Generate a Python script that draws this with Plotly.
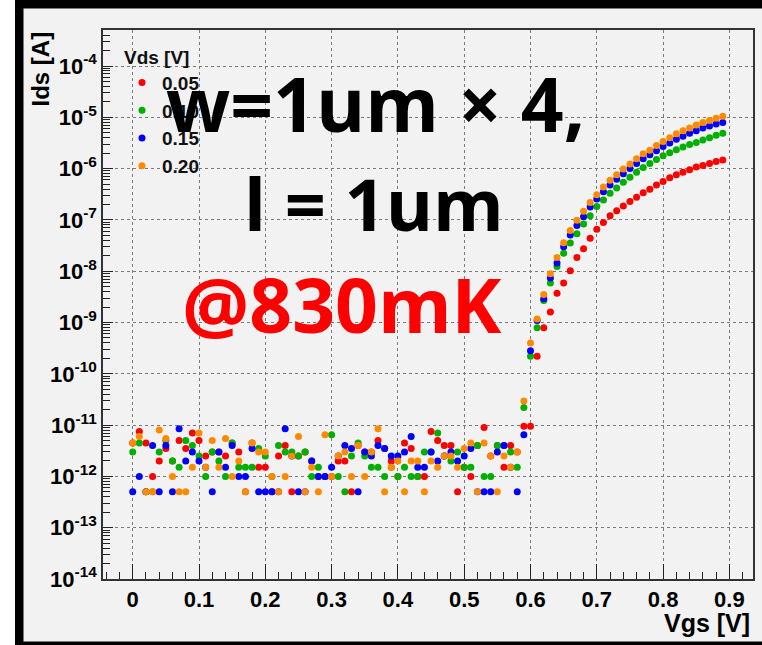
import plotly.graph_objects as go

# ---------------- data ----------------
VGS = [0.00, 0.01, 0.02, 0.03, 0.04, 0.05, 0.06, 0.07, 0.08, 0.09,
       0.10, 0.11, 0.12, 0.13, 0.14, 0.15, 0.16, 0.17, 0.18, 0.19,
       0.20, 0.21, 0.22, 0.23, 0.24, 0.25, 0.26, 0.27, 0.28, 0.29,
       0.30, 0.31, 0.32, 0.33, 0.34, 0.35, 0.36, 0.37, 0.38, 0.39,
       0.40, 0.41, 0.42, 0.43, 0.44, 0.45, 0.46, 0.47, 0.48, 0.49,
       0.50, 0.51, 0.52, 0.53, 0.54, 0.55, 0.56, 0.57, 0.58, 0.59,
       0.60, 0.61, 0.62, 0.63, 0.64, 0.65, 0.66, 0.67, 0.68, 0.69,
       0.70, 0.71, 0.72, 0.73, 0.74, 0.75, 0.76, 0.77, 0.78, 0.79,
       0.80, 0.81, 0.82, 0.83, 0.84, 0.85, 0.86, 0.87, 0.88, 0.89]

# off-state leakage, Vgs = 0.00 .. 0.58 (pA)
noise_005_pA = [4.5, 7.5, 4.5, 1.0, 2.0, 3.5, 2.0, 5.0, 3.5, 7.0,
                5.0, 2.5, 3.0, 3.0, 2.5, 4.5, 3.0, 0.5, 4.5, 1.5,
                1.5, 0.5, 2.5, 4.0, 0.5, 2.5, 3.0, 2.0, 1.0, 1.0,
                1.0, 2.0, 2.0, 0.5, 4.0, 3.0, 3.0, 5.0, 3.5, 2.0,
                1.0, 4.5, 3.5, 1.0, 1.0, 7.5, 5.0, 4.0, 4.0, 0.5,
                1.5, 1.0, 4.0, 9.0, 2.5, 4.0, 1.5, 4.0, 3.0]
noise_010_pA = [3.0, 4.5, 0.5, 0.5, 3.0, 5.0, 2.0, 1.5, 5.0, 4.0,
                2.5, 1.0, 3.0, 2.0, 1.0, 4.5, 1.5, 1.5, 1.5, 3.5,
                2.5, 1.0, 4.0, 3.0, 3.0, 2.5, 3.0, 1.0, 1.5, 1.0,
                6.5, 1.0, 0.5, 2.5, 4.5, 2.5, 1.5, 1.5, 1.0, 1.5,
                1.0, 1.5, 1.0, 1.0, 3.0, 3.0, 7.0, 2.5, 2.0, 3.0,
                1.5, 1.5, 4.0, 1.0, 1.0, 4.0, 4.0, 3.0, 1.5]
noise_015_pA = [0.5, 1.0, 0.5, 4.0, 0.5, 4.0, 0.5, 8.5, 2.0, 3.0,
                2.0, 1.5, 0.5, 3.0, 1.5, 4.0, 1.0, 1.0, 3.5, 0.5,
                0.5, 0.5, 0.5, 8.5, 2.5, 0.5, 0.5, 2.0, 1.0, 1.0,
                1.5, 2.5, 4.0, 3.5, 0.5, 3.0, 2.5, 4.0, 3.5, 2.5,
                2.5, 3.0, 6.0, 1.5, 1.5, 3.0, 2.0, 2.5, 3.0, 2.0,
                2.5, 3.5, 0.5, 0.5, 0.5, 3.0, 4.0, 1.5, 0.5]
noise_020_pA = [4.5, 6.0, 0.5, 0.5, 8.0, 5.5, 1.0, 0.5, 0.5, 1.5,
                7.0, 1.5, 5.0, 1.5, 5.5, 1.0, 2.0, 0.5, 4.5, 3.0,
                3.0, 1.0, 0.5, 1.0, 2.5, 6.0, 0.5, 1.5, 0.5, 6.5,
                1.0, 2.5, 3.0, 1.0, 4.0, 1.0, 3.0, 8.5, 0.5, 1.5,
                2.0, 0.5, 2.0, 2.0, 0.5, 2.0, 1.5, 2.5, 2.5, 1.5,
                3.5, 4.5, 0.5, 4.5, 2.5, 0.5, 2.5, 1.5, 3.0]

# turn-on region, Vgs = 0.59 .. 0.89 (A)
rise_005_A = [9.5e-12, 9.5e-12, 2.2e-10, 7.9e-10, 1.6e-9, 3.7e-9, 5.9e-9, 1.02e-8, 1.86e-8, 2.75e-8,
              4.4e-8, 6.6e-8, 8.9e-8, 1.2e-7, 1.51e-7, 1.86e-7, 2.29e-7, 2.75e-7, 3.39e-7, 3.98e-7,
              4.79e-7, 5.6e-7, 6.6e-7, 7.6e-7, 8.5e-7, 9.5e-7, 1.07e-6, 1.15e-6, 1.26e-6, 1.38e-6,
              1.48e-6]
rise_010_A = [2.2e-11, 2.2e-10, 7.9e-10, 2.7e-9, 5.9e-9, 1.23e-8, 2.24e-8, 3.55e-8, 5.4e-8, 8.3e-8,
              1.2e-7, 1.82e-7, 2.45e-7, 3.3e-7, 4.2e-7, 5.4e-7, 6.8e-7, 8.5e-7, 1.05e-6, 1.26e-6,
              1.51e-6, 1.78e-6, 2.04e-6, 2.34e-6, 2.63e-6, 2.95e-6, 3.24e-6, 3.63e-6, 3.98e-6, 4.47e-6,
              4.9e-6]
rise_015_A = [6.5e-12, 2.8e-10, 1.1e-9, 2.9e-9, 7.4e-9, 1.45e-8, 3.0e-8, 5.1e-8, 7.8e-8, 1.15e-7,
              1.78e-7, 2.57e-7, 3.55e-7, 4.8e-7, 6.2e-7, 7.9e-7, 1.0e-6, 1.26e-6, 1.55e-6, 1.86e-6,
              2.24e-6, 2.69e-6, 3.16e-6, 3.72e-6, 4.27e-6, 4.9e-6, 5.5e-6, 6.17e-6, 6.76e-6, 7.41e-6,
              7.94e-6]
rise_020_A = [2.95e-11, 4.0e-10, 1.17e-9, 3.5e-9, 8.9e-9, 1.86e-8, 3.6e-8, 6.2e-8, 9.8e-8, 1.48e-7,
              2.19e-7, 3.09e-7, 4.37e-7, 5.9e-7, 7.6e-7, 9.8e-7, 1.23e-6, 1.55e-6, 1.95e-6, 2.29e-6,
              2.82e-6, 3.39e-6, 3.98e-6, 4.79e-6, 5.5e-6, 6.17e-6, 7.08e-6, 7.94e-6, 8.7e-6, 9.55e-6,
              1.05e-5]

VDS_LABELS = ["0.05", "0.10", "0.15", "0.20"]
COLORS = ["#ff0000", "#00b000", "#0000ff", "#ff8a00"]

Y_TICK_EXP = [-14, -13, -12, -11, -10, -9, -8, -7, -6, -5, -4]
X_TICKS = [0.0, 0.1, 0.2, 0.3, 0.4, 0.5, 0.6, 0.7, 0.8, 0.9]
X_TICK_TEXT = ["0", "0.1", "0.2", "0.3", "0.4", "0.5", "0.6", "0.7", "0.8", "0.9"]

# ---------------- figure ----------------
W, H = 762, 645
ML, MR, MT, MB = 103, 9, 30, 66
PW, PH = W - ML - MR, H - MT - MB


def px(x):
    return (x - ML) / PW


def py(y):
    return (H - MB - y) / PH


def amps(pa_list):
    return [v * 1e-12 for v in pa_list]


series = [
    amps(noise_005_pA) + rise_005_A,
    amps(noise_010_pA) + rise_010_A,
    amps(noise_015_pA) + rise_015_A,
    amps(noise_020_pA) + rise_020_A,
]

bold = "Liberation Sans"
fig = go.Figure()
for k, (lab, col, ys) in enumerate(zip(VDS_LABELS, COLORS, series)):
    fig.add_trace(go.Scatter(
        x=VGS, y=ys, mode="markers", name=lab, legendgroup=f"g{k}",
        marker=dict(color=col, size=7, line=dict(width=0)),
    ))

minor_y = [m * 10.0 ** e for e in range(-14, -3) for m in range(2, 10)]
minor_y += [m * 1e-4 for m in range(2, 6)]

fig.update_layout(
    width=W, height=H, autosize=False,
    margin=dict(l=ML, r=MR, t=MT, b=MB, pad=0, autoexpand=False),
    paper_bgcolor="white", plot_bgcolor="rgba(0,0,0,0)",
    font=dict(family=bold, color="black"),
    showlegend=True,
    legend=dict(
        x=px(122), y=py(39), xanchor="left", yanchor="top",
        bgcolor="rgba(0,0,0,0)", borderwidth=0,
        font=dict(family=bold, size=19, color="#111", weight="bold"),
        title=dict(text="Vds [V]", font=dict(family=bold, size=19, color="#111", weight="bold")),
        tracegroupgap=0, itemwidth=30,
    ),
    xaxis=dict(
        range=[-0.0448, 0.9356], tickmode="array", tickvals=X_TICKS, ticktext=X_TICK_TEXT,
        automargin=False,
        ticks="inside", ticklen=15, tickwidth=1, tickcolor="#222",
        showline=True, linecolor="#333", linewidth=1.5, mirror=True,
        showgrid=True, gridcolor="#7a7a7a", griddash="dot", gridwidth=1,
        zeroline=False,
        tickfont=dict(family=bold, size=22, color="black", weight="bold"),
        minor=dict(tickmode="linear", tick0=0, dtick=0.02, ticks="inside", ticklen=7,
                   tickcolor="#222", tickwidth=1, showgrid=False),
    ),
    yaxis=dict(
        type="log", range=[-14, -3.298], tickmode="array",
        automargin=False,
        tickvals=[10.0 ** e for e in Y_TICK_EXP],
        ticktext=[f"10<sup>{e}</sup>" for e in Y_TICK_EXP],
        ticks="inside", ticklen=10, tickwidth=1, tickcolor="#222",
        showline=True, linecolor="#333", linewidth=1.5, mirror=True,
        showgrid=True, gridcolor="#7a7a7a", griddash="dot", gridwidth=1,
        zeroline=False,
        tickfont=dict(family=bold, size=22, color="black", weight="bold"),
        minor=dict(tickmode="array", tickvals=minor_y, ticks="inside", ticklen=7,
                   tickcolor="#222", tickwidth=1, showgrid=False),
    ),
    shapes=[
        dict(type="rect", xref="paper", yref="paper", layer="below",
             x0=px(15), x1=px(800), y0=py(0), y1=py(645),
             fillcolor="black", line=dict(width=0)),
        dict(type="rect", xref="paper", yref="paper", layer="below",
             x0=px(23.5), x1=px(800), y0=py(8.5), y1=py(641.5),
             fillcolor="#f2f2f2", line=dict(width=0)),
    ],
)

big = "Open Sans"
annotations = [
    dict(text="w=1um × 4,", x=px(375), y=py(103), font=dict(family=big, size=75, color="black", weight="bold")),
    dict(text="l = 1um", x=px(374), y=py(203), font=dict(family=big, size=72, color="black", weight="bold")),
    dict(text="@830mK", x=px(342), y=py(304), font=dict(family=big, size=75, color="#ff0000", weight="bold")),
    dict(text="Ids [A]", x=px(40), y=py(30), yanchor="top", textangle=-90,
         font=dict(family=bold, size=24, color="black", weight="bold")),
    dict(text="Vgs [V]", x=px(752), y=py(623), xanchor="right",
         font=dict(family=bold, size=25, color="black", weight="bold")),
]
for a in annotations:
    a.setdefault("xanchor", "center")
    a.setdefault("yanchor", "middle")
    a.update(xref="paper", yref="paper", showarrow=False)
fig.update_layout(annotations=annotations)

fig.write_html(
    "out.html",
    config={"displayModeBar": False},
    post_script="document.body.style.margin='0';document.body.style.padding='0';",
)
